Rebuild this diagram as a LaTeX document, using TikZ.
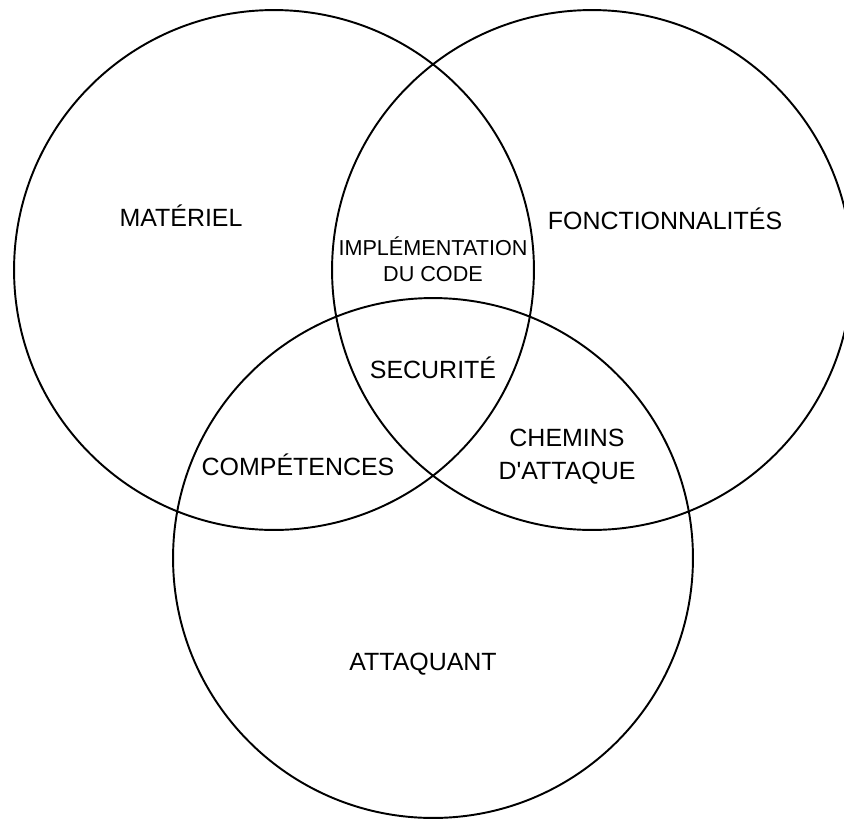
\documentclass[tikz,border=0pt]{standalone}
\usepackage{fontspec}
\setmainfont{Liberation Sans}
\usetikzlibrary{
	positioning
}
\tikzset{
	venncircle/.style={circle, draw, line width=1.1pt, inner sep=0pt, minimum size=10.4cm},
	vennlabel/.style={font=\fontsize{14.2}{18.7}\selectfont, align=center, inner sep=0pt},
	smalllabel/.style={font=\fontsize{12.3}{14.7}\selectfont, align=center, inner sep=0pt}
}

\begin{document}
\begin{tikzpicture}[x=0.02cm, y=-0.02cm]
	\useasboundingbox (0,0) rectangle (844,818);
	% the three sets
	\node[venncircle] (materiel) at (274,270) {};
	\node[venncircle] (fonction) at (592,270) {};
	\node[venncircle] (attaquant) at (433,558) {};
	% labels
	\node[vennlabel] (lmateriel) at (181,216) {MATÉRIEL};
	\node[vennlabel] (lfonction) at (665,219) {FONCTIONNALITÉS};
	\node[vennlabel] (lattaquant) at (423,664) {ATTAQUANT};
	\node[smalllabel] (lcode) at (433,259) {IMPLÉMENTATION\\DU CODE};
	\node[vennlabel] (lsecu) at (433,368) {SECURITÉ};
	\node[vennlabel] (lcomp) at (298,465) {COMPÉTENCES};
	\node[vennlabel] (lchemins) at (567,457) {CHEMINS\\D\textquotesingle ATTAQUE};
\end{tikzpicture}
\end{document}
